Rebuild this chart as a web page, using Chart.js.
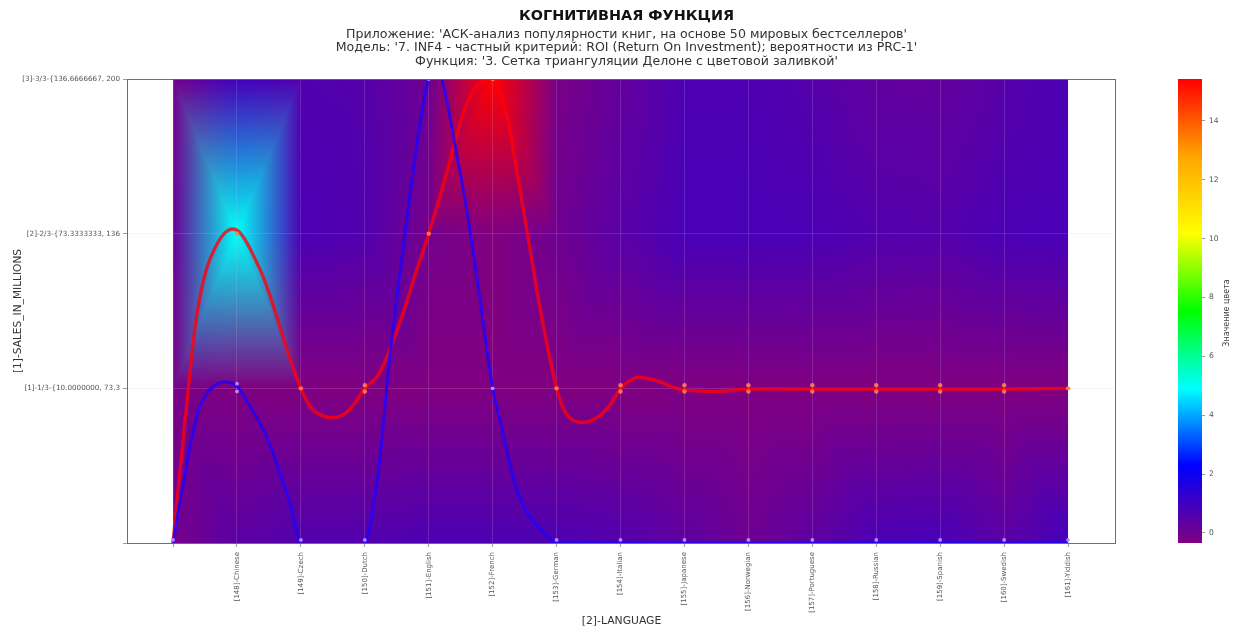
<!DOCTYPE html>
<html>
<head>
<meta charset="utf-8">
<script src="https://cdn.jsdelivr.net/npm/chart.js@4/dist/chart.umd.min.js"></script>
<style>
html,body{margin:0;padding:0;background:#fff;width:1253px;height:631px;overflow:hidden}
canvas{position:absolute;top:0;display:block;filter:blur(0.5px)}
#main{left:0}
#bar{left:1150px}
</style>
</head>
<body>
<canvas id="main" width="1253" height="631"></canvas>
<canvas id="bar" width="103" height="631"></canvas>
<script>
const titleMain = "КОГНИТИВНАЯ ФУНКЦИЯ";
const titleLines = [
  "Приложение: 'АСК-анализ популярности книг, на основе 50 мировых бестселлеров'",
  "Модель: '7. INF4 - частный критерий: ROI (Return On Investment); вероятности из PRC-1'",
  "Функция: '3. Сетка триангуляции Делоне с цветовой заливкой'"
];
const xAxisTitle = "[2]-LANGUAGE";
const yAxisTitle = "[1]-SALES_IN_MILLIONS";
const barTitle = "Значение цвета";

const xTickValues = [0,1,2,3,4,5,6,7,8,9,10,11,12,13,14];
const xTickLabels = ["","[148]-Chinese","[149]-Czech","[150]-Dutch","[151]-English","[152]-French","[153]-German","[154]-Italian","[155]-Japanese","[156]-Norwegian","[157]-Portuguese","[158]-Russian","[159]-Spanish","[160]-Swedish","[161]-Yiddish"];
const yTickValues = [0,1,2,3];
const yTickLabels = ["","[1]-1/3-{10.0000000, 73.3","[2]-2/3-{73.3333333, 136","[3]-3/3-{136.6666667, 200"];

// Node colour values of the triangulated field (one row per level, one entry per x tick)
const fieldLevel0 = [-0.1,0.4,0.6,0.6,0.7,0.7,0.7,0.6,0.35,0.05,0.35,0.75,0.8,0.45,0.9];
const fieldLevel1 = [-0.2,-0.34,-0.34,-0.34,-0.34,-0.34,-0.34,-0.34,-0.34,-0.34,-0.34,-0.34,-0.34,-0.34,-0.34];
const fieldLevel2 = [0.1,5.0,0.74,0.6,-0.1,-0.34,0,0.45,0.8,0.8,0.75,0.6,0.55,0.75,0.8];
const fieldLevel3 = [-0.1,0.9,0.6,0.55,0.05,15.42,-0.2,0.25,0.7,0.7,0.55,0.3,0.25,0.5,0.75];

// Curves
const redCurveX = [0,0.05,0.11,0.19,0.27,0.34,0.42,0.53,0.66,0.8,0.94,1.08,1.28,1.44,1.64,1.8,2,2.15,2.3,2.5,2.7,2.87,3,3.2,3.4,3.6,3.8,4,4.3,4.54,4.76,5,5.2,5.38,5.58,5.74,6,6.16,6.37,6.63,6.85,7,7.15,7.26,7.57,7.8,8,8.5,9,10,11,12,13,14];
const redCurveY = [0,0.22,0.47,0.8,1.12,1.38,1.59,1.78,1.91,2,2.03,1.99,1.84,1.69,1.44,1.23,1,0.88,0.83,0.81,0.84,0.92,1,1.08,1.26,1.49,1.75,2,2.42,2.78,2.96,3,2.8,2.4,1.91,1.52,1,0.83,0.78,0.81,0.9,1,1.05,1.07,1.05,1.01,0.99,0.98,0.995,0.995,0.995,0.995,0.995,1];
const blueCurveX = [0,0.06,0.14,0.22,0.31,0.42,0.55,0.7,0.84,1,1.17,1.36,1.52,1.67,1.83,2,2.5,3,3.13,3.24,3.39,3.66,3.82,3.99,4.1,4.21,4.38,4.6,4.8,5,5.115,5.22,5.38,5.58,5.85,6,7,8,9,10,11,12,13,14];
const blueCurveY = [0,0.15,0.34,0.52,0.71,0.88,0.98,1.03,1.04,1.015,0.905,0.775,0.63,0.45,0.26,0,-0.3,0,0.23,0.56,1.2,2.1,2.59,2.99,3.05,2.99,2.64,2.14,1.58,1,0.795,0.6,0.34,0.17,0.05,0,0,0,0,0,0,0,0,0];

// Marks at the nodes
const redMarkX = [1,2,3,3,4,5,6,7,7,8,8,9,9,10,10,11,11,12,12,13,13,14];
const redMarkY = [2,1,1.02,0.98,2,3,1,1.02,0.98,1.02,0.98,1.02,0.98,1.02,0.98,1.02,0.98,1.02,0.98,1.02,0.98,1];
const blueMarkX = [0,1,1,2,3,4,5,6,7,8,9,10,11,12,13,14];
const blueMarkY = [0.02,1.03,0.98,0.02,0.02,3,1,0.02,0.02,0.02,0.02,0.02,0.02,0.02,0.02,0.02];

const barMin = -0.34, barMax = 15.42;
const barTicks = [0,2,4,6,8,10,12,14];
const ramp = [[128,0,128],[0,0,255],[0,255,255],[0,255,0],[255,255,0],[255,165,0],[255,0,0]];

function colourOf(v){
  const f = Math.max(0,Math.min(1,(v-barMin)/(barMax-barMin)))*(ramp.length-1);
  const i = Math.min(ramp.length-2,Math.floor(f)), t = f-i;
  return ramp[i].map((c,k)=>c+(ramp[i+1][k]-c)*t);
}

// Triangle-mesh shading: each cell splits along the diagonal through its highest node
const fieldRows = [fieldLevel0,fieldLevel1,fieldLevel2,fieldLevel3];
function shade(a,b,c,d,useAD,tx,ty){
  if(useAD){
    return tx>=ty ? a+tx*(b-a)+ty*(d-b) : a+ty*(c-a)+tx*(d-c);
  }
  return tx+ty<=1 ? a+tx*(b-a)+ty*(c-a) : d+(1-tx)*(c-d)+(1-ty)*(b-d);
}
let fieldCache = null;
const fieldPlugin = {
  id:'field',
  beforeDraw(chart){
    const sx = chart.scales.x, sy = chart.scales.y, ctx = chart.ctx;
    const L = Math.round(sx.getPixelForValue(0)), R = Math.round(sx.getPixelForValue(14));
    const T = Math.round(sy.getPixelForValue(3)), B = Math.round(sy.getPixelForValue(0));
    if(!fieldCache){
      const w = R-L, h = B-T;
      fieldCache = document.createElement('canvas');
      fieldCache.width = w; fieldCache.height = h;
      const c = fieldCache.getContext('2d'), img = c.createImageData(w,h);
      const rgb = fieldRows.map(r=>r.map(colourOf));
      for(let py=0;py<h;py++){
        const dy = Math.max(0,Math.min(2.9999,sy.getValueForPixel(T+py+0.5)));
        const j = Math.floor(dy), ty = dy-j;
        for(let px=0;px<w;px++){
          const dx = Math.max(0,Math.min(13.9999,sx.getValueForPixel(L+px+0.5)));
          const i = Math.floor(dx), tx = dx-i, o = (py*w+px)*4;
          const va=fieldRows[j][i], vb=fieldRows[j][i+1], vc=fieldRows[j+1][i], vd=fieldRows[j+1][i+1];
          const top=Math.max(va,vb,vc,vd), useAD=(va===top||vd===top);
          for(let k=0;k<3;k++){
            img.data[o+k] = shade(rgb[j][i][k],rgb[j][i+1][k],rgb[j+1][i][k],rgb[j+1][i+1][k],useAD,tx,ty);
          }
          img.data[o+3] = 255;
        }
      }
      c.putImageData(img,0,0);
    }
    ctx.drawImage(fieldCache,L,T);
  }
};
const framePlugin = {
  id:'frame',
  afterDraw(chart){
    const a = chart.chartArea, ctx = chart.ctx;
    ctx.save();
    ctx.strokeStyle = 'rgba(95,95,95,0.9)';
    ctx.lineWidth = 1;
    ctx.strokeRect(a.left+0.5,a.top+0.5,a.right-a.left-1,a.bottom-a.top);
    ctx.restore();
  }
};
const pts = (xs,ys)=>xs.map((x,i)=>({x,y:ys[i]}));

new Chart(document.getElementById('main'),{
  type:'scatter',
  plugins:[fieldPlugin,framePlugin],
  data:{datasets:[
    {type:'line',label:'red curve',data:pts(redCurveX,redCurveY),borderColor:'rgba(255,0,10,0.78)',borderWidth:3.4,pointRadius:0,tension:0.35,order:4},
    {type:'line',label:'blue curve',data:pts(blueCurveX,blueCurveY),borderColor:'rgba(35,0,245,0.88)',borderWidth:3,pointRadius:0,tension:0.35,order:3},
    {label:'red nodes',data:pts(redMarkX,redMarkY),backgroundColor:'rgba(255,130,70,0.9)',borderWidth:0,pointRadius:2.2,order:2},
    {label:'blue nodes',data:pts(blueMarkX,blueMarkY),backgroundColor:'rgba(190,140,255,0.95)',borderWidth:0,pointRadius:1.9,order:1}
  ]},
  options:{
    responsive:false,animation:false,devicePixelRatio:1,
    plugins:{
      legend:{display:false},tooltip:{enabled:false},
      title:{display:true,text:titleMain,color:'#111',font:{family:'DejaVu Sans',weight:'bold',size:14.4,lineHeight:1.15},padding:{top:8,bottom:0}},
      subtitle:{display:true,text:titleLines,color:'#333',font:{family:'DejaVu Sans',size:12.6,lineHeight:1.07},padding:{top:3,bottom:11}}
    },
    scales:{
      x:{type:'linear',min:-0.72,max:14.75,
        afterBuildTicks(s){s.ticks=xTickValues.map(value=>({value}));},
        afterFit(s){s.height=88;},
        grid:{color:'rgba(215,190,240,0.18)',lineWidth:1,tickColor:'rgba(90,90,90,0.6)',tickLength:4},
        border:{display:false},
        ticks:{autoSkip:false,minRotation:90,maxRotation:90,padding:5,color:'#555',font:{family:'DejaVu Sans',size:7},
          callback(v){return xTickLabels[xTickValues.indexOf(v)]||'';}},
        title:{display:true,text:xAxisTitle,color:'#333',font:{family:'DejaVu Sans',size:10.8},padding:{top:0,bottom:3}}
      },
      y:{type:'linear',min:0,max:3,
        afterBuildTicks(s){s.ticks=yTickValues.map(value=>({value}));},
        afterFit(s){s.width=127;},
        grid:{color:'rgba(215,190,240,0.18)',lineWidth:1,tickColor:'rgba(90,90,90,0.6)',tickLength:4},
        border:{display:false},
        ticks:{autoSkip:false,padding:3,color:'#555',font:{family:'DejaVu Sans',size:7.2},
          callback(v){return yTickLabels[yTickValues.indexOf(v)]||'';}},
        title:{display:true,text:yAxisTitle,color:'#333',font:{family:'DejaVu Sans',size:10.6},padding:{top:12,bottom:0}}
      },
      rightPad:{axis:'y',position:'right',min:0,max:3,
        afterFit(s){s.width=137;},
        grid:{display:false},border:{display:false},ticks:{display:false}
      }
    }
  }
});

const barTitlePlugin = {
  id:'barTitle',
  afterDraw(chart){
    const ctx = chart.ctx, s = chart.scales.y;
    ctx.save();
    ctx.translate(77,(s.top+s.bottom)/2+2);
    ctx.rotate(-Math.PI/2);
    ctx.textAlign='center';ctx.textBaseline='middle';
    ctx.fillStyle='#444';ctx.font='8px "DejaVu Sans"';
    ctx.fillText(barTitle,0,0);
    ctx.restore();
  }
};
new Chart(document.getElementById('bar'),{
  type:'bar',
  plugins:[barTitlePlugin],
  data:{labels:['colour'],datasets:[{
    data:[[barMin,barMax]],
    barPercentage:1,categoryPercentage:1,
    borderWidth:0,
    backgroundColor(c){
      const a = c.chart.chartArea;
      if(!a) return '#800080';
      const g = c.chart.ctx.createLinearGradient(0,a.bottom,0,a.top);
      ramp.forEach((col,i)=>g.addColorStop(i/(ramp.length-1),`rgb(${col.join(',')})`));
      return g;
    }
  }]},
  options:{
    responsive:false,animation:false,devicePixelRatio:1,
    layout:{padding:{left:28,top:79,right:0,bottom:88}},
    plugins:{legend:{display:false},tooltip:{enabled:false}},
    scales:{
      x:{display:false},
      y:{position:'right',min:barMin,max:barMax,
        afterBuildTicks(s){s.ticks=barTicks.map(value=>({value}));},
        afterFit(s){s.width=51;},
        grid:{drawOnChartArea:false,tickColor:'rgba(90,90,90,0.6)',tickLength:3},
        border:{display:false},
        ticks:{padding:4,color:'#555',font:{family:'DejaVu Sans',size:7.6}}
      }
    }
  }
});
</script>
</body>
</html>
